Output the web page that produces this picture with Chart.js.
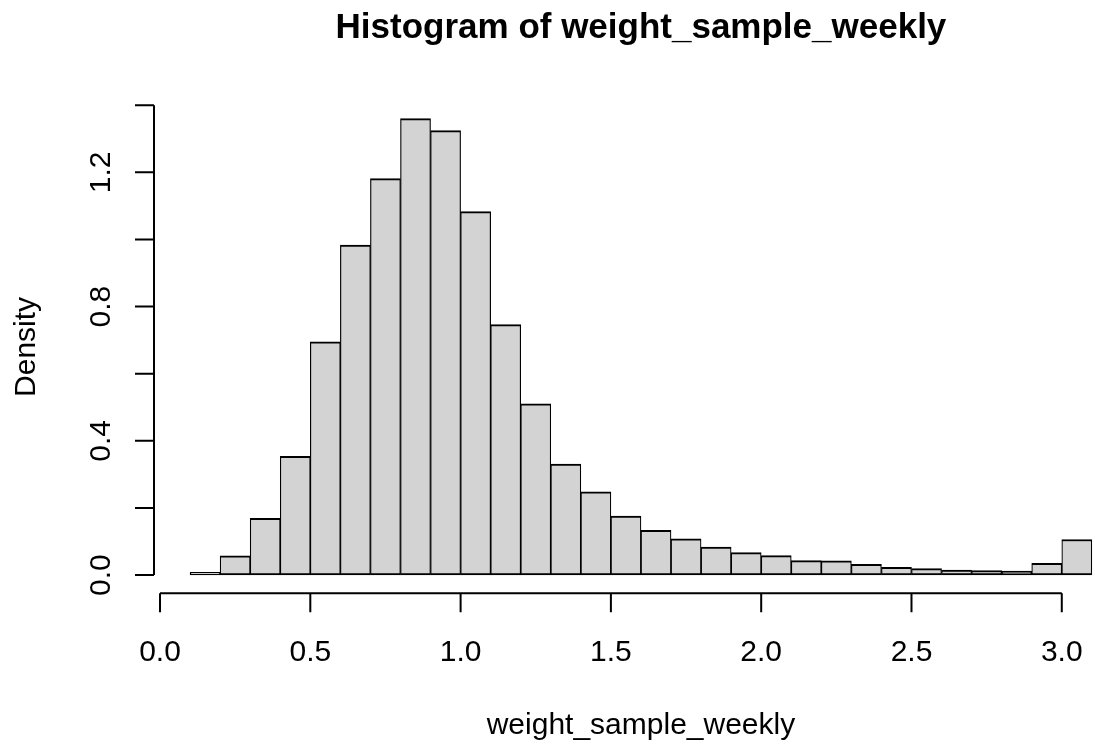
<!DOCTYPE html>
<html><head><meta charset="utf-8">
<script src="https://cdn.jsdelivr.net/npm/chart.js@4/dist/chart.umd.min.js"></script>
<style>html,body{margin:0;padding:0;background:#fff}canvas{display:block}</style>
</head><body>
<canvas id="c" width="1095" height="744"></canvas>
<script>
// Histogram bins (mid-points of 0.1-wide bins from 0.1 to 3.1)
const binCenters = [0.15,0.25,0.35,0.45,0.55,0.65,0.75,0.85,0.95,1.05,
                    1.15,1.25,1.35,1.45,1.55,1.65,1.75,1.85,1.95,2.05,
                    2.15,2.25,2.35,2.45,2.55,2.65,2.75,2.85,2.95,3.05];
const densities = [0.008,0.057,0.169,0.354,0.695,0.983,1.181,1.360,1.324,1.083,
                   0.746,0.510,0.331,0.248,0.176,0.133,0.108,0.083,0.067,0.058,
                   0.043,0.042,0.032,0.023,0.019,0.015,0.013,0.012,0.035,0.106];
const xTickValues = [0.0,0.5,1.0,1.5,2.0,2.5,3.0];
const xTickLabels = ["0.0","0.5","1.0","1.5","2.0","2.5","3.0"];
const yTickValues = [0.0,0.2,0.4,0.6,0.8,1.0,1.2,1.4];
const yTickLabels = ["0.0","","0.4","","0.8","","1.2",""];
const titleText = "Histogram of weight_sample_weekly";
const xTitle = "weight_sample_weekly";
const yTitle = "Density";

const FONT = '"Liberation Sans", Arial, Helvetica, sans-serif';

const rAxes = {
  id: 'rAxes',
  afterDraw(chart) {
    const ctx = chart.ctx, xs = chart.scales.x, ys = chart.scales.y, a = chart.chartArea;
    ctx.save();
    ctx.strokeStyle = '#000';
    ctx.fillStyle = '#000';
    ctx.lineWidth = 2;
    // x axis
    const x0 = xs.getPixelForValue(xTickValues[0]);
    const x1 = xs.getPixelForValue(xTickValues[xTickValues.length-1]);
    const yb = a.bottom;
    ctx.beginPath();
    ctx.moveTo(x0, yb); ctx.lineTo(x1, yb);
    xTickValues.forEach(v => { const p = xs.getPixelForValue(v); ctx.moveTo(p, yb); ctx.lineTo(p, yb + 19); });
    ctx.stroke();
    ctx.font = '30px ' + FONT;
    ctx.textAlign = 'center';
    ctx.textBaseline = 'alphabetic';
    xTickValues.forEach((v, i) => ctx.fillText(xTickLabels[i], xs.getPixelForValue(v), yb + 67.5));
    // y axis
    const xl = a.left;
    const y0 = ys.getPixelForValue(yTickValues[0]);
    const y1 = ys.getPixelForValue(yTickValues[yTickValues.length-1]);
    ctx.beginPath();
    ctx.moveTo(xl, y0); ctx.lineTo(xl, y1);
    yTickValues.forEach(v => { const p = ys.getPixelForValue(v); ctx.moveTo(xl, p); ctx.lineTo(xl - 19, p); });
    ctx.stroke();
    yTickValues.forEach((v, i) => {
      if (!yTickLabels[i]) return;
      ctx.save();
      ctx.translate(xl - 44, ys.getPixelForValue(v));
      ctx.rotate(-Math.PI/2);
      ctx.fillText(yTickLabels[i], 0, 0);
      ctx.restore();
    });
    // titles
    const cx = xs.getPixelForValue(1.6);
    const cy = (a.top + a.bottom) / 2;
    ctx.fillText(xTitle, cx, 734);
    ctx.save();
    ctx.translate(35, cy);
    ctx.rotate(-Math.PI/2);
    ctx.fillText(yTitle, 0, 0);
    ctx.restore();
    ctx.font = 'bold 35px ' + FONT;
    ctx.fillText(titleText, cx, 37.5);
    ctx.restore();
  }
};

new Chart(document.getElementById('c'), {
  type: 'bar',
  data: {
    datasets: [{
      data: binCenters.map((x, i) => ({x: x, y: densities[i]})),
      backgroundColor: '#d3d3d3',
      borderColor: '#000',
      borderWidth: {top: 2, left: 1.2, right: 1.2, bottom: 2},
      borderSkipped: false,
      barPercentage: 1,
      categoryPercentage: 1
    }]
  },
  options: {
    responsive: false,
    animation: false,
    devicePixelRatio: 1,
    layout: {padding: {left: 154, right: 0, top: 100.5, bottom: 150.7}},
    plugins: {legend: {display: false}, tooltip: {enabled: false}, title: {display: false}},
    scales: {
      x: {type: 'linear', offset: false, min: -0.02, max: 3.1105, display: false},
      y: {type: 'linear', min: -0.0544, max: 1.414, display: false}
    }
  },
  plugins: [rAxes]
});
</script>
</body></html>
